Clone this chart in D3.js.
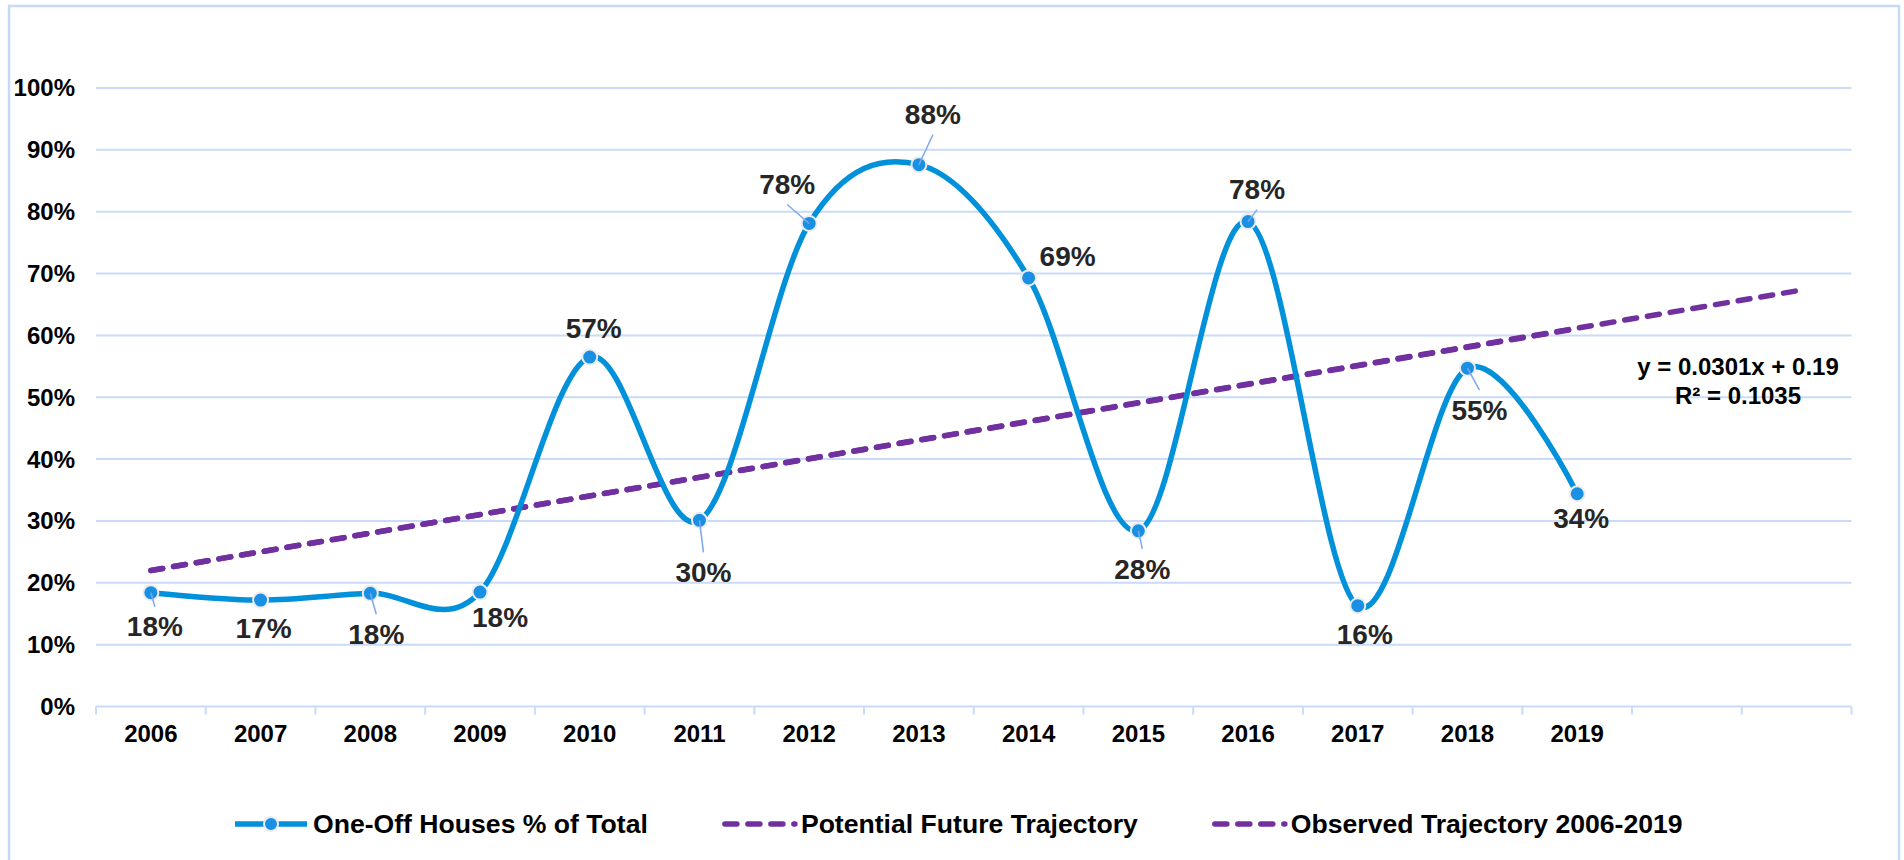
<!DOCTYPE html>
<html lang="en">
<head>
    <meta charset="UTF-8">
    <title>One-Off Houses % of Total</title>
    <script src="https://d3js.org/d3.v7.min.js"></script>
    <style>
        body{ margin:0; background:#fff; }
        svg{ display:block; font-family:"Liberation Sans", Arial, sans-serif; font-weight:bold; }
    </style>
</head>
<body>
<svg width="1904" height="860"></svg>

<script>
    // data
    const years = ["2006","2007","2008","2009","2010","2011","2012","2013","2014","2015","2016","2017","2018","2019"]
    const forecastYears = ["2020","2021"]   // unlabelled slots the trendline runs into
    const shares = [0.184,0.172,0.183,0.185,0.565,0.301,0.781,0.876,0.693,0.284,0.784,0.163,0.547,0.344]
    const shareLabels = ["18%","17%","18%","18%","57%","30%","78%","88%","69%","28%","78%","16%","55%","34%"]
    // trendline end points (y = 0.0301x + 0.19)
    const potentialYears = ["2006","2021"]
    const potentialValues = [0.220,0.672]
    const observedYears = ["2006","2019"]
    const observedValues = [0.220,0.611]
    const yTicks = [0,0.1,0.2,0.3,0.4,0.5,0.6,0.7,0.8,0.9,1]
    const equationLines = ["y = 0.0301x + 0.19","R² = 0.1035"]
    const legendNames = ["One-Off Houses % of Total","Potential Future Trajectory","Observed Trajectory 2006-2019"]

    // where each data label sits relative to its point (px)
    const labelOffsets = [[4,34],[3,28],[6,41],[20,25],[4,-29],[4,52],[-22,-39],[14,-50],[39,-22],[4,38],[9,-32],[7,29],[12,42],[4,24]]

    const blue = "#0091da", purple = "#7030a0", grid = "#c9dbf8"
    const svg = d3.select("svg")

    // outer frame
    svg.append("rect").attr("x",9).attr("y",6).attr("width",1890).attr("height",880)
        .attr("fill","none").attr("stroke","#c6d9f6").attr("stroke-width",2.5)

    const x = d3.scaleBand().domain(years.concat(forecastYears)).range([96,1851.5])
    const y = d3.scaleLinear().domain([0,1]).range([706.5,88])
    const cx = d => x(d) + x.bandwidth()/2

    // gridlines
    svg.append("g").selectAll("line").data(yTicks).enter().append("line")
        .attr("x1",96).attr("x2",1851.5)
        .attr("y1",d=>y(d)).attr("y2",d=>y(d))
        .attr("stroke",grid).attr("stroke-width",2)

    // y labels
    svg.append("g").selectAll("text").data(yTicks).enter().append("text")
        .attr("x",75).attr("y",d=>y(d)).attr("dy","0.35em")
        .attr("text-anchor","end").attr("font-size",24).attr("fill","#000")
        .text(d=>Math.round(d*100)+"%")

    // x axis ticks between categories
    const bounds = x.domain().map(d=>x(d)).concat([1851.5])
    svg.append("g").selectAll("line").data(bounds).enter().append("line")
        .attr("x1",d=>d).attr("x2",d=>d)
        .attr("y1",y(0)).attr("y2",y(0)+8)
        .attr("stroke",grid).attr("stroke-width",2)

    svg.append("g").selectAll("text").data(years).enter().append("text")
        .attr("x",d=>cx(d)).attr("y",734).attr("dy","0.35em")
        .attr("text-anchor","middle").attr("font-size",24).attr("fill","#000")
        .text(d=>d)

    // trendlines
    const trendLine = d3.line().x(d=>cx(d[0])).y(d=>y(d[1]))
    const dashStyle = g => g.attr("fill","none").attr("stroke",purple).attr("stroke-width",5.5)
        .attr("stroke-dasharray","12,11").attr("stroke-linecap","round")
    svg.append("path").datum(d3.zip(potentialYears,potentialValues)).attr("d",trendLine).call(dashStyle)
    svg.append("path").datum(d3.zip(observedYears,observedValues)).attr("d",trendLine).call(dashStyle)

    // main smoothed series
    const pts = d3.zip(years,shares)
    const smooth = d3.line().x(d=>cx(d[0])).y(d=>y(d[1])).curve(d3.curveCardinal.tension(0))
    svg.append("path").datum(pts).attr("d",smooth)
        .attr("fill","none").attr("stroke",blue).attr("stroke-width",5.5)

    svg.append("g").selectAll("circle").data(pts).enter().append("circle")
        .attr("cx",d=>cx(d[0])).attr("cy",d=>y(d[1])).attr("r",7.5)
        .attr("fill","#1a90e4").attr("stroke","#ececec").attr("stroke-width",2)

    // data labels with leader lines
    const labels = svg.append("g")
    pts.forEach((d,i)=>{
        const px = cx(d[0]), py = y(d[1])
        const [dx,dy] = labelOffsets[i]
        if(Math.abs(dy) > 30){
            labels.append("line")
                .attr("x1",px).attr("y1",py)
                .attr("x2",px+dx).attr("y2",py+dy-Math.sign(dy)*20)
                .attr("stroke","#7ea6f2").attr("stroke-width",1.5)
        }
        labels.append("text")
            .attr("x",px+dx).attr("y",py+dy).attr("dy","0.35em")
            .attr("text-anchor","middle").attr("font-size",28).attr("fill","#262626")
            .text(shareLabels[i])
    })

    // trendline equation
    svg.append("g").selectAll("text").data(equationLines).enter().append("text")
        .attr("x",1738).attr("y",(d,i)=>367+i*28.5).attr("dy","0.35em")
        .attr("text-anchor","middle").attr("font-size",24).attr("fill","#000")
        .text(d=>d)

    // legend
    const legend = svg.append("g").attr("transform","translate(0,824)")
    let lx = 235
    legendNames.forEach((name,i)=>{
        const item = legend.append("g").attr("transform",`translate(${lx},0)`)
        if(i===0){
            item.append("line").attr("x1",0).attr("x2",72).attr("stroke",blue).attr("stroke-width",5.5)
            item.append("circle").attr("cx",36).attr("r",7)
                .attr("fill","#1a90e4").attr("stroke","#ececec").attr("stroke-width",2)
        } else {
            item.append("line").attr("x1",2).attr("x2",72).call(dashStyle)
        }
        const t = item.append("text").attr("x",78).attr("dy","0.35em")
            .attr("font-size",26.6).attr("fill","#000").text(name)
        lx += 78 + t.node().getComputedTextLength() + 75
    })
</script>
</body>
</html>
